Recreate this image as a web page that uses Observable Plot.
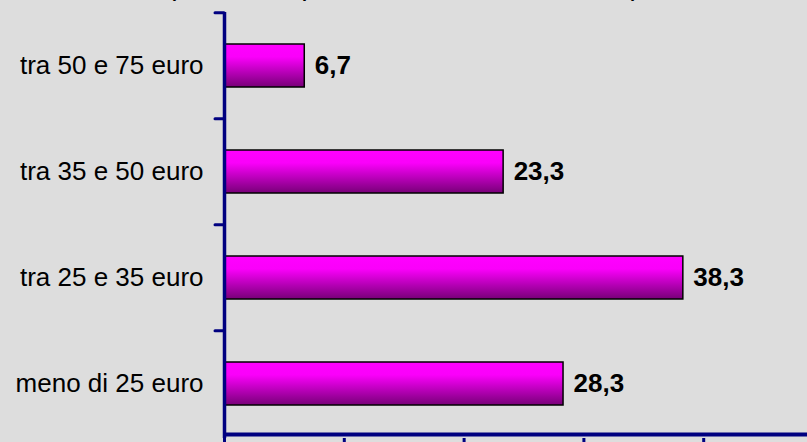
<!DOCTYPE html>
<html>
<head>
<meta charset="utf-8">
<script src="https://cdn.jsdelivr.net/npm/d3@7"></script>
<script src="https://cdn.jsdelivr.net/npm/@observablehq/plot@0.6"></script>
<style>
  html, body { margin: 0; padding: 0; background: #dddddd; overflow: hidden; }
  #wrap { position: relative; width: 807px; height: 442px; }
  #title { position: absolute; left: 0; width: 807px; top: -18px; text-align: center;
           font: bold 18px/18px "Liberation Sans", Arial, sans-serif; color: #000; white-space: nowrap; }
  svg { display: block; }
</style>
</head>
<body>
<div id="wrap">
  <div id="chart"></div>
  <div id="title">(costo medio a persona, valori % sul totale intervistati)</div>
</div>
<script>
const categories = ["tra 50 e 75 euro", "tra 35 e 50 euro", "tra 25 e 35 euro", "meno di 25 euro"];
const values = [6.7, 23.3, 38.3, 28.3];
const xTicks = [0, 10, 20, 30, 40, 50];

const data = categories.map((c, i) => ({cat: c, value: values[i]}));
const fmt = v => d3.format(".1f")(v).replace(".", ",");
const navy = "#000080";

const gradientDefs = () => {
  const svg = d3.create("svg:defs");
  const g = svg.append("linearGradient").attr("id", "barGrad")
    .attr("x1", 0).attr("y1", 0).attr("x2", 0).attr("y2", 1);
  g.append("stop").attr("offset", "0%").attr("stop-color", "#ff00ff");
  g.append("stop").attr("offset", "30%").attr("stop-color", "#fa00fa");
  g.append("stop").attr("offset", "100%").attr("stop-color", "#780078");
  return svg.node();
};

const chart = Plot.plot({
  width: 807,
  height: 442,
  marginLeft: 224,
  marginTop: 12,
  marginBottom: 4,
  marginRight: 0,
  style: {background: "#dddddd", fontFamily: "'Liberation Sans', Arial, sans-serif", overflow: "hidden"},
  x: {domain: [0, 50], range: [224, 823]},
  y: {domain: categories, paddingInner: 0.59, paddingOuter: 0.295, align: 0.5},
  marks: [
    gradientDefs,
    Plot.barX(data, {x: "value", y: "cat", fill: "url(#barGrad)", stroke: "#000", strokeWidth: 1.5}),
    Plot.text(data, {x: "value", y: "cat", text: d => fmt(d.value), dx: 10, textAnchor: "start",
      fontWeight: "bold", fontSize: 26, fill: "#000"}),
    Plot.axisY({tickSize: 0, tickPadding: 21, fontSize: 26, fill: "#000", label: null}),
    Plot.axisX({ticks: xTicks, tickSize: 8, tickFormat: () => "", stroke: navy, strokeWidth: 3, label: null}),
    Plot.ruleX([0], {stroke: navy, strokeWidth: 3.5}),
    Plot.ruleY(categories, {y: d => d, x1: -0.75, x2: 0, dy: -53.25, stroke: navy, strokeWidth: 3, strokeLinecap: "round"}),
    Plot.ruleY([categories[categories.length - 1]], {y: d => d, x1: 0, x2: 50, dy: 50.5, stroke: navy, strokeWidth: 4})
  ]
});
document.getElementById("chart").appendChild(chart);
</script>
</body>
</html>
